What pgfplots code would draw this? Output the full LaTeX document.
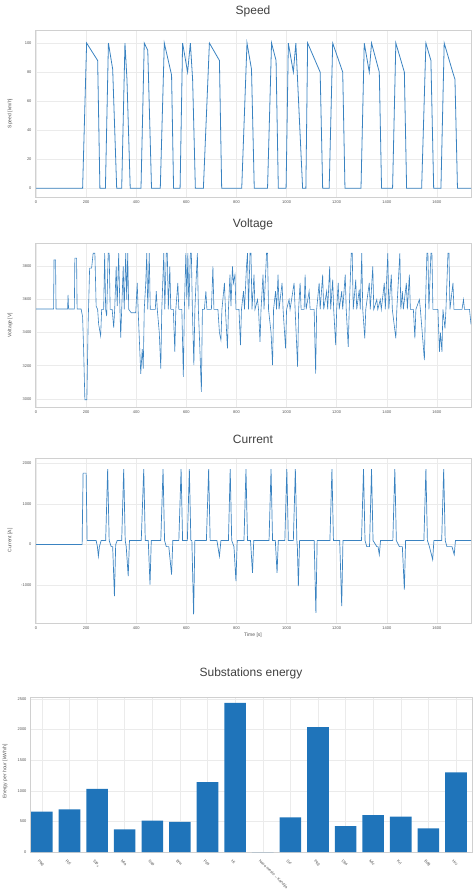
\documentclass[border=0pt]{standalone}
\usepackage{fontspec}
\setmainfont{Liberation Sans}
\usepackage{pgfplots}
\usepackage{pgfplotstable}
\pgfplotsset{compat=1.18}

\definecolor{sig}{HTML}{3A83C1}
\definecolor{barc}{HTML}{1F74BA}
\definecolor{gridc}{HTML}{EBEBEB}
\definecolor{framec}{HTML}{D0D0D0}
\definecolor{txt}{HTML}{555555}

\pgfplotstableread{
t v
0 0
186 0
202 100
246 88
255 0
277 0
289 100
306 82
322 0
342 0
355 100
363 75
376 0
419 0
432 100
446 95
461 0
496 0
512 100
541 78
549 0
575 0
585 100
605 80
616 100
625 75
636 0
668 0
692 100
732 88
741 0
821 0
842 100
860 82
871 0
924 0
940 100
958 88
967 0
998 0
1007 100
1027 80
1037 100
1064 0
1077 0
1084 100
1134 80
1144 0
1170 0
1184 100
1224 80
1233 0
1297 0
1310 100
1330 80
1339 100
1370 80
1379 0
1423 0
1436 100
1470 80
1479 0
1539 0
1556 100
1576 88
1587 0
1616 0
1629 100
1663 80
1672 75
1682 0
1736 0
}\speed

\pgfplotstableread{
t u
0 3543
70 3543
72 3840
78 3840
80 3543
126 3543
128 3628
130 3543
153 3543
155 3850
162 3850
164 3543
180 3543
186 3496
190 3300
195 2994
203 2994
208 3450
214 3790
222 3790
228 3880
235 3880
240 3560
246 3540
250 3450
258 3380
262 3540
270 3540
274 3880
278 3540
282 3500
288 3880
292 3880
296 3540
304 3540
310 3430
314 3540
320 3800
324 3560
330 3880
334 3600
338 3370
342 3540
348 3800
352 3540
358 3880
362 3600
366 3880
370 3540
380 3520
398 3520
404 3700
408 3520
414 3300
418 3150
424 3300
428 3182
432 3540
438 3700
442 3880
446 3540
452 3880
456 3540
476 3540
480 3650
484 3540
492 3400
498 3182
502 3540
510 3880
514 3540
520 3880
524 3880
528 3540
534 3800
538 3540
548 3540
554 3284
558 3540
566 3700
570 3540
582 3540
588 3132
592 3540
598 3880
602 3600
606 3880
610 3540
616 3880
620 3880
624 3540
630 3203
634 3540
640 3750
644 3880
648 3540
654 3300
660 3041
664 3540
672 3540
678 3650
682 3540
700 3540
706 3800
710 3540
726 3540
732 3400
738 3355
742 3540
752 3700
756 3540
764 3304
768 3540
774 3750
778 3560
784 3800
788 3700
794 3750
798 3540
810 3540
816 3324
820 3540
828 3650
832 3540
840 3800
844 3880
848 3540
854 3880
858 3880
862 3540
870 3750
874 3540
884 3600
888 3540
894 3344
898 3540
906 3750
910 3540
920 3880
924 3880
928 3540
938 3400
944 3203
948 3540
956 3650
960 3540
966 3750
970 3540
982 3700
986 3540
996 3304
1000 3540
1010 3600
1014 3540
1030 3700
1034 3540
1044 3193
1048 3540
1054 3700
1058 3540
1070 3540
1074 3750
1078 3540
1090 3650
1094 3540
1110 3540
1116 3152
1120 3540
1130 3700
1134 3540
1144 3750
1148 3540
1160 3650
1164 3540
1172 3800
1176 3540
1184 3720
1188 3540
1196 3324
1200 3540
1206 3700
1210 3540
1220 3650
1224 3540
1234 3750
1238 3540
1246 3314
1250 3540
1258 3880
1262 3880
1266 3540
1276 3720
1280 3540
1290 3660
1294 3540
1300 3880
1304 3540
1312 3365
1316 3540
1330 3700
1334 3540
1344 3800
1348 3540
1360 3600
1364 3540
1374 3600
1378 3540
1390 3700
1394 3540
1404 3880
1408 3540
1418 3750
1422 3540
1436 3365
1440 3540
1452 3880
1456 3540
1462 3650
1466 3540
1478 3700
1482 3540
1490 3750
1494 3540
1506 3540
1512 3365
1516 3540
1530 3600
1534 3540
1550 3233
1554 3540
1560 3880
1564 3880
1568 3540
1576 3880
1580 3880
1584 3540
1596 3540
1604 3540
1610 3284
1614 3400
1620 3284
1624 3540
1632 3425
1636 3540
1644 3880
1648 3880
1652 3540
1664 3700
1668 3540
1700 3540
1706 3600
1710 3540
1730 3540
1736 3450
}\voltage

\pgfplotstableread{
t i
0 0
184 0
188 1750
200 1750
204 100
240 100
245 -50
249 -285
253 -50
260 100
278 100
286 1850
292 100
300 -50
306 -50
313 -1263
318 0
324 100
342 100
350 1850
356 100
360 -50
368 -774
373 100
420 100
430 1850
436 100
448 100
455 -978
460 100
498 100
507 1850
513 100
520 -50
530 -50
541 -733
546 100
570 100
579 1850
585 100
604 100
612 1850
618 100
622 100
629 -1711
634 100
680 100
689 1850
695 100
722 100
732 -285
738 100
768 100
775 1850
781 100
790 -50
798 -896
803 100
830 100
838 1850
844 100
856 100
864 -693
869 100
930 100
938 1850
944 100
955 100
962 -693
967 100
993 100
1001 1850
1007 100
1027 100
1035 1850
1041 100
1043 -50
1047 -1019
1052 100
1110 100
1117 -1670
1122 100
1173 100
1181 1850
1187 100
1212 100
1220 -1508
1225 100
1299 100
1307 1850
1313 100
1320 -50
1331 -50
1339 1850
1345 100
1360 -50
1365 -50
1370 -245
1375 100
1424 100
1432 1850
1438 100
1450 -50
1462 -50
1470 -1100
1475 100
1548 100
1556 1850
1562 100
1570 -50
1583 -367
1588 100
1619 100
1627 1850
1633 100
1640 -50
1660 -50
1669 -245
1674 100
1736 100
}\current

\pgfplotstableread{
x e
0 661
1 694
2 1030
3 369
4 512
5 490
6 1140
7 2434
8 0
9 567
10 2037
11 424
12 600
13 578
14 385
15 1300
}\energy

\pgfplotsset{
  base/.style={
    scale only axis, anchor=south west,
    axis line style={framec, line width=0.6pt},
    grid=major, grid style={gridc, line width=0.4pt},
    tick style={draw=none},
    ticklabel style={font=\fontsize{4}{5}\selectfont, text=txt},
    /pgf/number format/assume math mode=true,
    /pgf/number format/1000 sep={},
    every axis x label/.style={at={(axis description cs:0.5,0)}, yshift=-12pt, anchor=center,
      font=\fontsize{5}{6}\selectfont, text=txt},
    title style={font=\fontsize{12}{14}\selectfont, text=black!75, at={(0.5,1)}, anchor=center, yshift=13pt},
    every axis y label/.style={at={(axis description cs:0,0.5)}, xshift=-25pt, rotate=90, anchor=center,
      font=\fontsize{5}{6}\selectfont, text=txt},
  },
  sigax/.style={base, width=436pt, xmin=-4, xmax=1736, xtick={0,200,...,1600}},
}

\begin{document}
\begin{tikzpicture}
\useasboundingbox (0,0) rectangle (474pt,894pt);

\begin{axis}[sigax, at={(35pt,697pt)}, height=167pt,
  title={Speed}, ylabel={Speed [km/h]},
  ymin=-6, ymax=109, ytick={0,20,...,100}]
\addplot[sig, line width=0.8pt] table[x=t, y=v] {\speed};
\end{axis}

\begin{axis}[sigax, at={(35pt,487pt)}, height=164pt,
  title={Voltage}, ylabel={Voltage [V]},
  ymin=2950, ymax=3942, ytick={3000,3200,...,3800}]
\addplot[sig, line width=0.6pt] table[x=t, y=u] {\voltage};
\end{axis}

\begin{axis}[sigax, at={(35pt,271pt)}, height=165pt,
  title={Current}, ylabel={Current [A]}, xlabel={Time [s]},
  ymin=-1920, ymax=2120, ytick={-1000,0,1000,2000}]
\addplot[sig, line width=0.7pt] table[x=t, y=i] {\current};
\end{axis}

\begin{axis}[base, at={(30pt,42pt)}, width=442pt, height=155pt,
  title={Substations energy}, title style={yshift=5pt},
  ylabel={Energy per hour [kWh/h]},
  every axis y label/.append style={xshift=3pt},
  ymin=0, ymax=2530, ytick={0,500,...,2500},
  xmin=-0.43, xmax=15.58, xtick={0,...,15},
  xticklabels={Pbg, Rzl, Stp$_{\rm a}$, Mla, Nsp, Brw, Pds, Hl, Novo mesto -- Kandija, Src, Pkg, Dbs, Mlc, Krl, Bdg, Hrv},
  xticklabel style={rotate=-45, anchor=north west, xshift=-3pt, font=\fontsize{4}{5}\selectfont},
  ybar, bar width=21.6pt]
\addplot[fill=barc, draw=none] table[x=x, y=e] {\energy};
\end{axis}
\end{tikzpicture}
\end{document}
